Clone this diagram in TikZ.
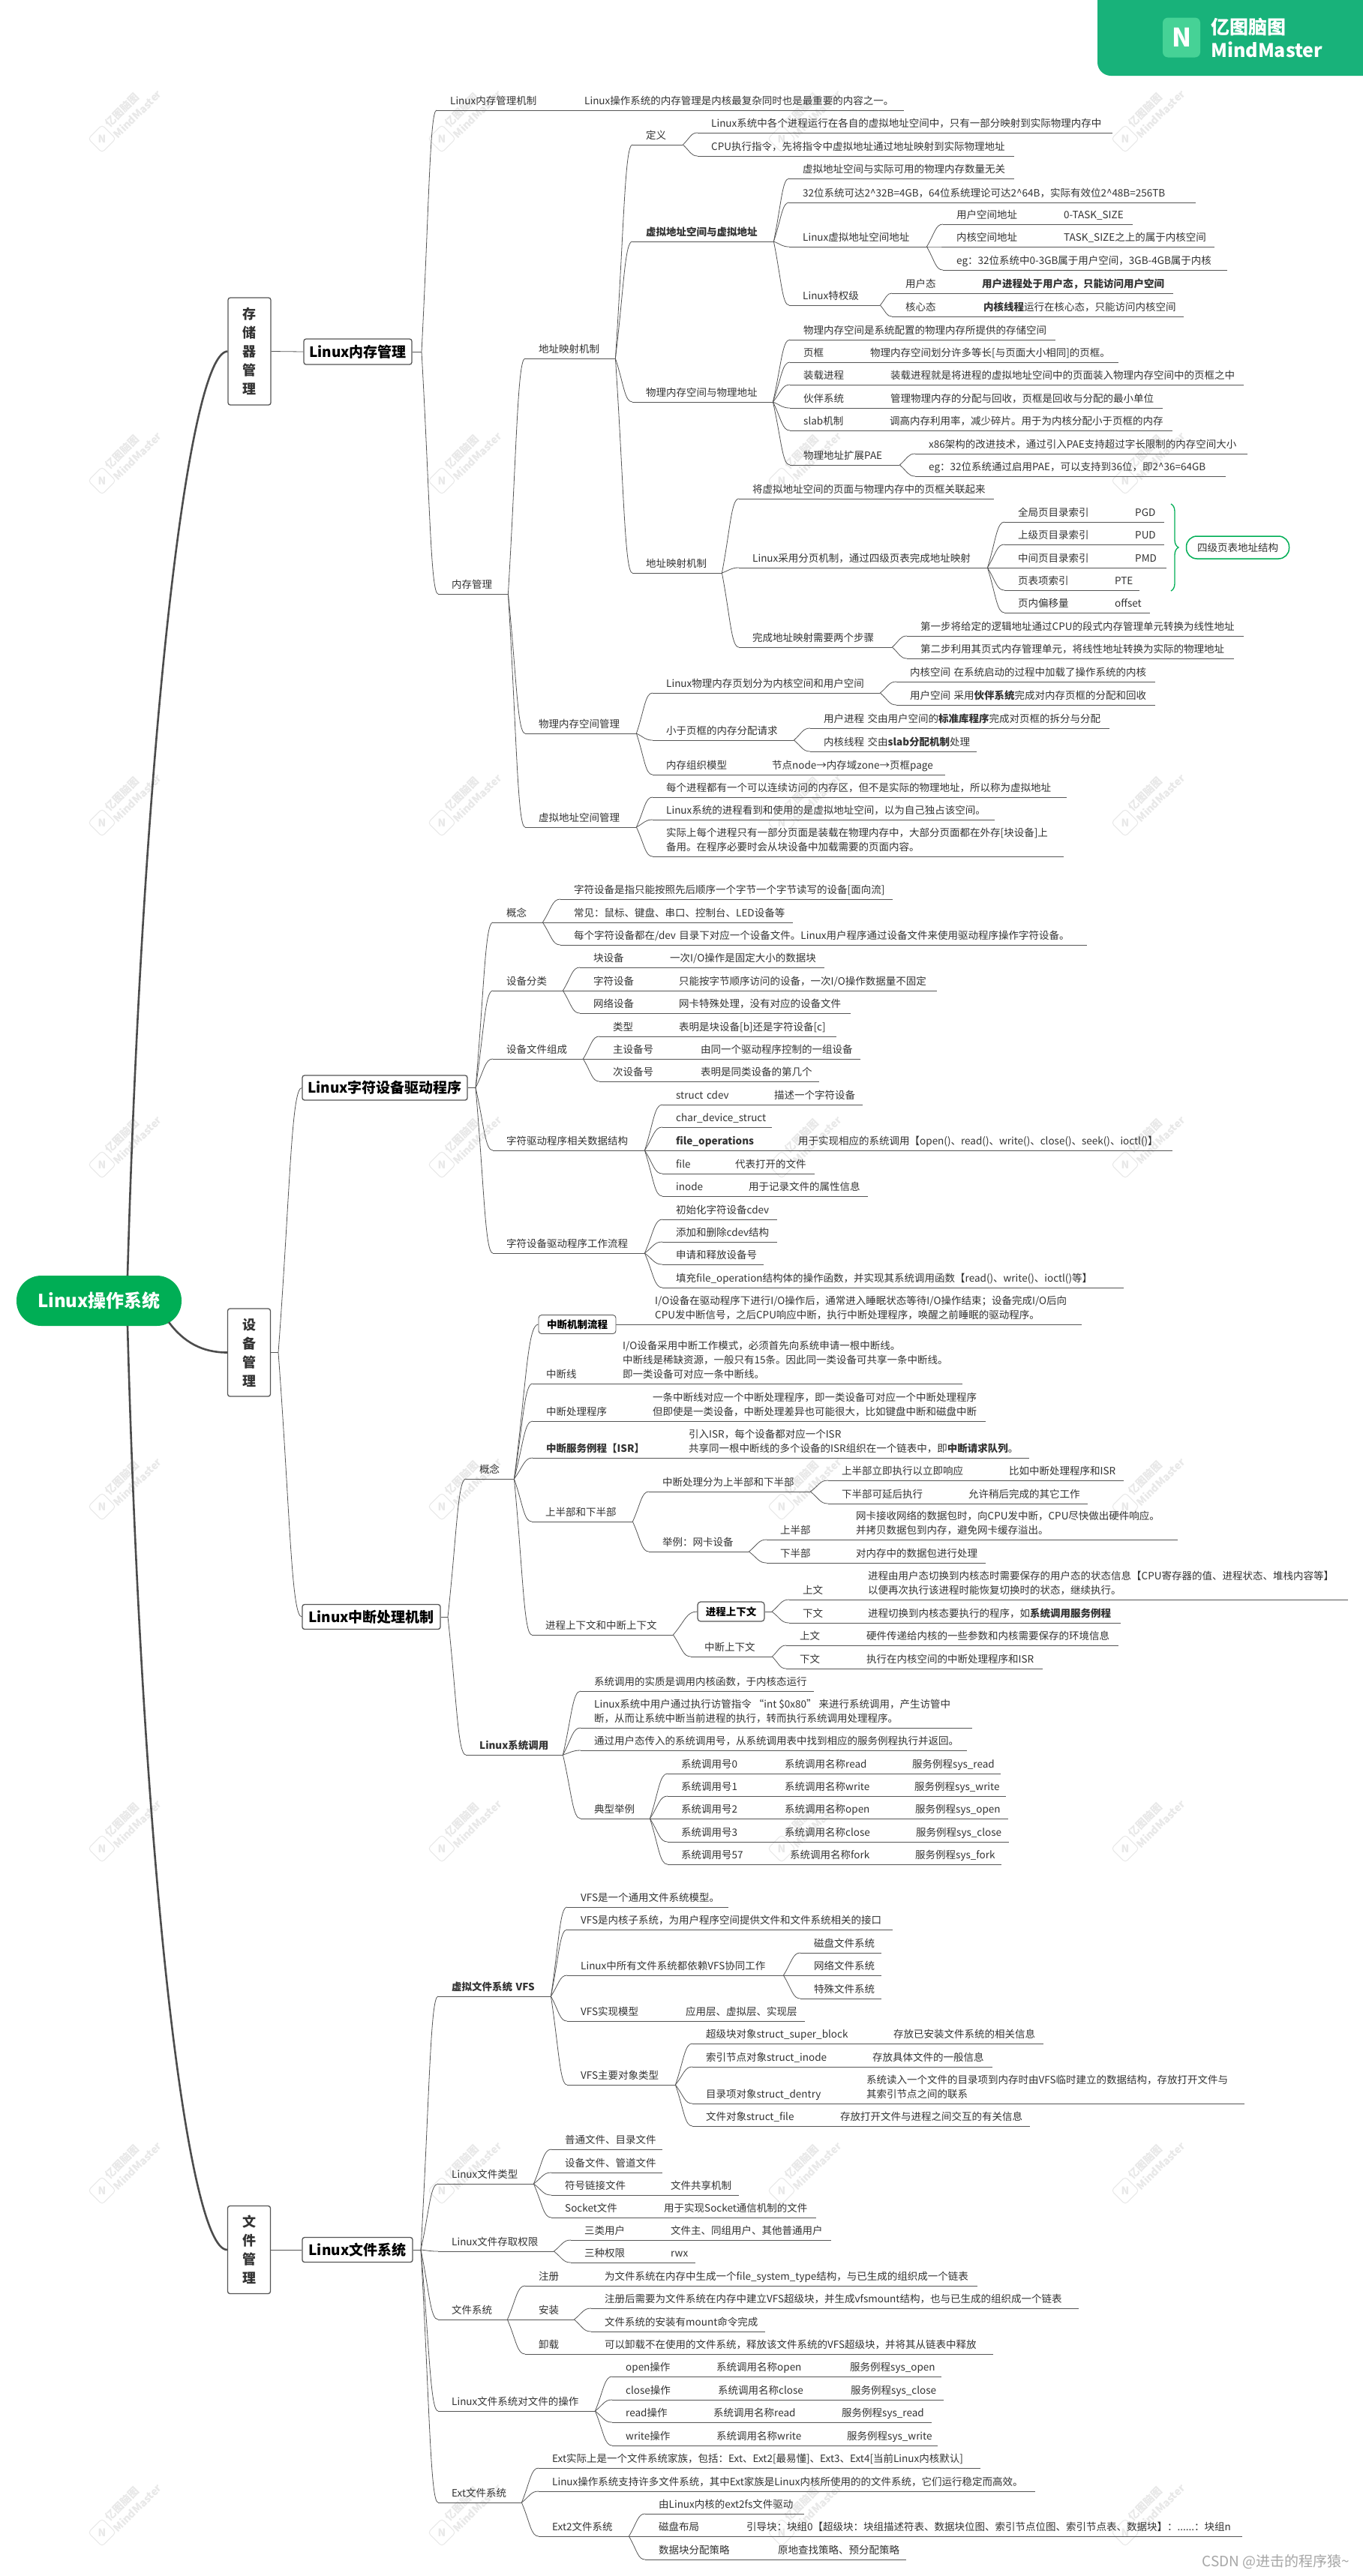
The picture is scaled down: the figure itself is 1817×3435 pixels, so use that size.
\documentclass[tikz,border=0pt]{standalone}
\usepackage{fontspec}
\setmainfont{Noto Sans CJK SC}
\usetikzlibrary{calc,decorations.pathreplacing}
\definecolor{brand}{RGB}{0,174,85}
\definecolor{logobg}{RGB}{24,178,122}
\definecolor{logoic}{RGB}{70,210,150}
\definecolor{ink}{RGB}{51,51,51}
\definecolor{wire}{RGB}{85,85,85}
\definecolor{mark}{RGB}{232,232,232}
\newcommand{\lnk}[2]{\draw[link] let \p1=(#1), \p2=(#2) in (\p1) .. controls ({.5*\x1+.5*\x2},{.4*\y1+.6*\y2}) and ({.45*\x1+.55*\x2},\y2) .. (\p2);}
\tikzset{
  topic/.style={anchor=south west,inner xsep=0pt,inner ysep=1.3pt,align=left,text=ink,font=\fontsize{13.5}{19}\selectfont},
  note/.style={anchor=south west,inner sep=0pt,yshift=1.3pt,align=left,text=ink,font=\fontsize{13.5}{19}\selectfont},
  link/.style={draw=wire,line width=.8pt},
  rule/.style={draw=wire,line width=.9pt},
  trunk/.style={draw=wire!90!black,line width=2.6pt},
  groupbox/.style={draw=wire,line width=1.3pt,fill=white,rounded corners=3pt,minimum width=57pt,align=center,text=ink,font=\fontsize{18}{25}\selectfont\bfseries},
  mainbox/.style={draw=wire,line width=1.3pt,fill=white,rounded corners=3pt,text=black,font=\fontsize{19}{24}\selectfont\bfseries},
  subbox/.style={draw=wire,line width=.9pt,fill=white,rounded corners=4pt,text=black,font=\fontsize{13.5}{19}\selectfont\bfseries},
  wmicon/.style={draw=mark,line width=1pt,rounded corners=4pt,rotate=45,minimum size=26pt,inner sep=0pt},
  wmtext/.style={text=mark,inner sep=0pt,font=\fontsize{14}{16}\selectfont\bfseries}
}
\begin{document}
\begin{tikzpicture}[x=1pt,y=-1pt]
  \useasboundingbox (0,0) rectangle (1817,3435);
  \fill[white] (0,0) rectangle (1817,3435);
  \foreach \wx in {136,589,1042,1500}
    \foreach \wy in {185,641,1097,1553,2009,2465,2921,3377} {
      \node[wmicon] (wmi\wx-\wy) at (\wx,\wy) {};
      \node[wmtext] (wmn\wx-\wy) at (\wx,\wy) {N};
      \node[wmtext,rotate=45] (wma\wx-\wy) at (\wx+27,\wy-38) {亿图脑图};
      \node[wmtext,rotate=45] (wmb\wx-\wy) at (\wx+47,\wy-33) {MindMaster};
    }
  \fill[logobg] (1463,0) [rounded corners=18pt] -- (1463,101) [sharp corners] -- (1817,101) -- (1817,0) -- cycle;
  \node[fill=logoic,rounded corners=7pt,minimum width=50pt,minimum height=53pt,inner sep=0pt,text=white,font=\fontsize{34}{34}\selectfont\bfseries] (logoicon) at (1575,50) {N};
  \node[anchor=west,inner sep=0pt,text=white,font=\fontsize{25}{27}\selectfont\bfseries] (logocn) at (1614,36) {亿图脑图};
  \node[anchor=west,inner sep=0pt,text=white,font=\fontsize{25}{27}\selectfont\bfseries] (logoen) at (1614,66) {MindMaster};

  \node[fill=brand,rounded corners=33pt,minimum width=220pt,minimum height=67pt,inner sep=0pt,text=white,font=\fontsize{24}{28}\selectfont\bfseries] (root) at (132,1734.5) {Linux操作系统};
  \node[groupbox,minimum height=143pt] (store) at (332.5,468.5) {存\\储\\器\\管\\理};
  \node[groupbox,minimum height=117pt] (device) at (332,1803.5) {设\\备\\管\\理};
  \node[groupbox,minimum height=117pt] (filegrp) at (332,3000) {文\\件\\管\\理};
  \node[mainbox,minimum width=144pt,minimum height=34pt,inner sep=0pt] (memdrv) at (477,469) {Linux内存管理};
  \node[mainbox,minimum width=220pt,minimum height=33pt,inner sep=0pt] (chrdrv) at (513,1450.5) {Linux字符设备驱动程序};
  \node[mainbox,minimum width=184pt,minimum height=33pt,inner sep=0pt] (irqdrv) at (495,2156) {Linux中断处理机制};
  \node[mainbox,minimum width=147pt,minimum height=33pt,inner sep=0pt] (fsdrv) at (476.5,3000) {Linux文件系统};

  \coordinate (rootup) at (170,1701);
  \coordinate (rootdev) at (225,1763);
  \coordinate (rootdn) at (170,1768);
  \coordinate (memhub) at (562,469);
  \coordinate (devhub) at (371,1803.5);
  \coordinate (chrhub) at (634,1450.5);
  \coordinate (irqhub) at (597,2156);
  \coordinate (fshub) at (561,3000);
  \coordinate (ctxhub) at (1029,2149);
  \draw[trunk] (rootup) .. controls (190,1000) and (250,470) .. (store.west);
  \draw[trunk] (rootdev) .. controls (245,1790) and (270,1803.5) .. (device.west);
  \draw[trunk] (rootdn) .. controls (190,2500) and (250,3000) .. (filegrp.west);
  \draw[link] (store.east) -- (memdrv.west);
  \draw[link] (filegrp.east) -- (fsdrv.west);
  \draw[link] (memdrv.east) -- (memhub);
  \draw[link] (device.east) -- (devhub);
  \draw[link] (chrdrv.east) -- (chrhub);
  \draw[link] (irqdrv.east) -- (irqhub);
  \draw[link] (fsdrv.east) -- (fshub);
  \lnk{devhub}{chrdrv.west}
  \lnk{devhub}{irqdrv.west}

  \foreach \id/\xt/\xb/\yy/\txt in {
    memintro/600/1205/147/{Linux内存管理机制},
    memmain/602/677/792/{内存管理},
    mapmech/718/820/478/{地址映射机制},
    physmgr/718/848/978/{物理内存空间管理},
    virtmgr/718/848/1103/{虚拟地址空间管理},
    defn/861/910/193/{定义},
    virtaddr/861/1031/322/{\textbf{虚拟地址空间与虚拟地址}},
    physaddr/861/1030/536/{物理内存空间与物理地址},
    addrmap/861/962/764/{地址映射机制},
    defa/948/1483/177/{Linux系统中各个进程运行在各自的虚拟地址空间中，只有一部分映射到实际物理内存中},
    defb/948/1352/208/{CPU执行指令，先将指令中虚拟地址通过地址映射到实际物理地址},
    vasa/1070/1352/238/{虚拟地址空间与实际可用的物理内存数量无关},
    vasb/1070/1594/270/{32位系统可达2\textasciicircum 32B=4GB，64位系统理论可达2\textasciicircum 64B，实际有效位2\textasciicircum 48B=256TB},
    vasc/1070/1235/329/{Linux虚拟地址空间地址},
    vasd/1070/1173/407/{Linux特权级},
    usp/1275/1510/299/{用户空间地址},
    ksp/1275/1619/329/{内核空间地址},
    egsp/1275/1636/360/{eg：32位系统中0-3GB属于用户空间，3GB-4GB属于内核},
    umode/1207/1564/391/{用户态},
    kmode/1207/1578/422/{核心态},
    pha/1071/1407/453/{物理内存空间是系统配置的物理内存所提供的存储空间},
    phb/1071/1491/483/{页框},
    phc/1071/1658/513/{装载进程},
    phd/1071/1550/544/{伙伴系统},
    phe/1071/1563/574/{slab机制},
    phf/1071/1199/620/{物理地址扩展PAE},
    paea/1238/1663/605/{x86架构的改进技术，通过引入PAE支持超过字长限制的内存空间大小},
    paeb/1238/1634/635/{eg：32位系统通过启用PAE，可以支持到36位，即2\textasciicircum 36=64GB},
    mapa/1003/1325/665/{将虚拟地址空间的页面与物理内存中的页框关联起来},
    mapb/1003/1316/757/{Linux采用分页机制，通过四级页表完成地址映射},
    mapc/1003/1189/863/{完成地址映射需要两个步骤},
    pgd/1357/1552/696/{全局页目录索引},
    pud/1357/1552/726/{上级页目录索引},
    pmd/1357/1555/757/{中间页目录索引},
    pte/1357/1519/787/{页表项索引},
    pgo/1357/1533/817/{页内偏移量},
    stepa/1227/1658/848/{第一步将给定的逻辑地址通过CPU的段式内存管理单元转换为线性地址},
    stepb/1227/1645/878/{第二步利用其页式内存管理单元，将线性地址转换为实际的物理地址},
    pma/888/1173/924/{Linux物理内存页划分为内核空间和用户空间},
    pmb/888/1058/987/{小于页框的内存分配请求},
    pmc/888/1260/1033/{内存组织模型},
    pmaa/1213/1540/909/{内核空间 在系统启动的过程中加载了操作系统的内核},
    pmab/1213/1540/940/{用户空间 采用\textbf{伙伴系统}完成对内存页框的分配和回收},
    pmba/1098/1479/971/{用户进程 交由用户空间的\textbf{标准库程序}完成对页框的拆分与分配},
    pmbb/1098/1302/1002/{内核线程 交由\textbf{slab分配机制}处理},
    vma/888/1422/1063/{每个进程都有一个可以连续访问的内存区，但不是实际的物理地址，所以称为虚拟地址},
    vmb/888/1326/1093/{Linux系统的进程看到和使用的是虚拟地址空间，以为自己独占该空间。},
    vmc/888/1418/1142/{},
    cdcon/675/723/1230/{概念},
    cdcls/675/750/1321/{设备分类},
    cdfile/675/777/1412/{设备文件组成},
    cdstru/675/859/1534/{字符驱动程序相关数据结构},
    cdflow/675/859/1671/{字符设备驱动程序工作流程},
    cona/765/1190/1199/{字符设备是指只能按照先后顺序一个字节一个字节读写的设备[面向流]},
    conb/765/1057/1230/{常见：鼠标、键盘、串口、控制台、LED设备等},
    conc/765/1449/1260/{每个字符设备都在/dev 目录下对应一个设备文件。Linux用户程序通过设备文件来使用驱动程序操作字符设备。},
    clsa/791/1099/1290/{块设备},
    clsb/791/1249/1321/{字符设备},
    clsc/791/1134/1351/{网络设备},
    fila/817/1115/1382/{类型},
    filb/817/1147/1412/{主设备号},
    filc/817/1092/1442/{次设备号},
    stra/901/1150/1473/{struct cdev},
    strb/901/1029/1503/{char\_device\_struct},
    strc/901/1563/1534/{\textbf{file\_operations}},
    strd/901/1086/1565/{file},
    stre/901/1157/1595/{inode},
    flwa/901/1036/1626/{初始化字符设备cdev},
    flwb/901/1036/1656/{添加和删除cdev结构},
    flwc/901/1018/1686/{申请和释放设备号},
    flwd/901/1498/1717/{填充file\_operation结构体的操作函数，并实现其系统调用函数【read()、write()、ioctl()等】},
    irqcon/639/685/1972/{概念},
    sysc/639/750/2340/{\textbf{Linux系统调用}},
    flowln/839/1442/1766/{},
    irqline/728/1283/1845/{中断线},
    irqproc/728/1314/1895/{中断处理程序},
    irqisr/728/1372/1944/{\textbf{中断服务例程【ISR】}},
    irqhalf/727/843/2029/{上半部和下半部},
    ctxmain/727/897/2180/{进程上下文和中断上下文},
    halfa/883/1080/1989/{中断处理分为上半部和下半部},
    halfb/883/998/2069/{举例：网卡设备},
    hfaa/1122/1498/1974/{上半部立即执行以立即响应},
    hfab/1122/1450/2005/{下半部可延后执行},
    hfba/1040/1570/2053/{上半部},
    hfbb/1040/1314/2084/{下半部},
    prua/1070/1797/2133/{上文},
    prub/1070/1494/2164/{下文},
    ictx/939/1029/2209/{中断上下文},
    icta/1066/1491/2194/{上文},
    ictb/1066/1390/2225/{下文},
    sysa/792/1085/2255/{系统调用的实质是调用内核函数，于内核态运行},
    sysb/792/1296/2304/{},
    sysd/792/1289/2334/{通过用户态传入的系统调用号，从系统调用表中找到相应的服务例程执行并返回。},
    syse/792/866/2425/{典型举例},
    nra/908/1334/2365/{系统调用号0},
    nrb/908/1341/2395/{系统调用号1},
    nrc/908/1344/2425/{系统调用号2},
    nrd/908/1345/2456/{系统调用号3},
    nre/908/1335/2486/{系统调用号57},
    vfs/602/734/2662/{\textbf{虚拟文件系统 VFS}},
    ftype/602/711/2912/{Linux文件类型},
    fperm/602/738/3002/{Linux文件存取权限},
    fsys/602/676/3093/{文件系统},
    fops/602/793/3215/{Linux文件系统对文件的操作},
    fext/602/695/3337/{Ext文件系统},
    vfsa/774/971/2543/{VFS是一个通用文件系统模型。},
    vfsb/774/1190/2573/{VFS是内核子系统，为用户程序空间提供文件和文件系统相关的接口},
    vfsc/774/1044/2634/{Linux中所有文件系统都依赖VFS协同工作},
    vfsd/774/1073/2695/{VFS实现模型},
    vfse/774/900/2780/{VFS主要对象类型},
    diskfs/1085/1175/2604/{磁盘文件系统},
    netfs/1085/1175/2634/{网络文件系统},
    specfs/1085/1175/2665/{特殊文件系统},
    obja/941/1391/2725/{超级块对象struct\_super\_block},
    objb/941/1323/2756/{索引节点对象struct\_inode},
    objc/941/1659/2805/{目录项对象struct\_dentry},
    objd/941/1373/2835/{文件对象struct\_file},
    typa/753/883/2866/{普通文件、目录文件},
    typb/753/883/2897/{设备文件、管道文件},
    typc/753/985/2927/{符号链接文件},
    typd/753/1088/2957/{Socket文件},
    pera/779/1108/2987/{三类用户},
    perb/779/927/3017/{三种权限},
    regs/718/1303/3048/{注册},
    inst/718/765/3093/{安装},
    umnt/718/1324/3139/{卸载},
    insa/806/1438/3078/{注册后需要为文件系统在内存中建立VFS超级块，并生成vfsmount结构，也与已生成的组织成一个链表},
    insb/806/1020/3109/{文件系统的安装有mount命令完成},
    opa/834/1255/3169/{open操作},
    opb/834/1258/3200/{close操作},
    opc/834/1242/3230/{read操作},
    opd/834/1250/3261/{write操作},
    exta/736/1307/3291/{Ext实际上是一个文件系统家族，包括：Ext、Ext2[最易懂]、Ext3、Ext4[当前Linux内核默认]},
    extb/736/1380/3322/{Linux操作系统支持许多文件系统，其中Ext家族是Linux内核所使用的的文件系统，它们运行稳定而高效。},
    extc/736/838/3382/{Ext2文件系统},
    extca/878/1072/3352/{由Linux内核的ext2fs文件驱动},
    extcb/878/1656/3382/{磁盘布局},
    extcc/878/1208/3413/{数据块分配策略}} {
    \node[topic,text width=\xb-\xt+18] (\id) at (\xt-18,\yy) {\rlap{\hspace{18pt}\strut\txt}};
    \draw[rule] (\id.south west) -- (\id.south east);
  }

  \foreach \id/\xn/\txt in {
    memintro/779/{Linux操作系统的内存管理是内核最复杂同时也是最重要的内容之一。},
    usp/1418/{0-TASK\_SIZE},
    ksp/1418/{TASK\_SIZE之上的属于内核空间},
    umode/1309/{\textbf{用户进程处于用户态，只能访问用户空间}},
    kmode/1311/{\textbf{内核线程}运行在核心态，只能访问内核空间},
    phb/1160/{物理内存空间划分许多等长[与页面大小相同]的页框。},
    phc/1187/{装载进程就是将进程的虚拟地址空间中的页面装入物理内存空间中的页框之中},
    phd/1187/{管理物理内存的分配与回收，页框是回收与分配的最小单位},
    phe/1186/{调高内存利用率，减少碎片。用于为内核分配小于页框的内存},
    pgd/1513/{PGD},
    pud/1513/{PUD},
    pmd/1513/{PMD},
    pte/1486/{PTE},
    pgo/1486/{offset},
    pmc/1029/{节点node→内存域zone→页框page},
    vmc/888/{实际上每个进程只有一部分页面是装载在物理内存中，大部分页面都在外存[块设备]上\\\strut 备用。在程序必要时会从块设备中加载需要的页面内容。},
    clsa/893/{一次I/O操作是固定大小的数据块},
    clsb/905/{只能按字节顺序访问的设备，一次I/O操作数据量不固定},
    clsc/905/{网卡特殊处理，没有对应的设备文件},
    fila/905/{表明是块设备[b]还是字符设备[c]},
    filb/934/{由同一个驱动程序控制的一组设备},
    filc/934/{表明是同类设备的第几个},
    stra/1032/{描述一个字符设备},
    strc/1064/{用于实现相应的系统调用【open()、read()、write()、close()、seek()、ioctl()】},
    strd/980/{代表打开的文件},
    stre/998/{用于记录文件的属性信息},
    flowln/873/{I/O设备在驱动程序下进行I/O操作后，通常进入睡眠状态等待I/O操作结束；设备完成I/O后向\\\strut CPU发中断信号，之后CPU响应中断，执行中断处理程序，唤醒之前睡眠的驱动程序。},
    irqline/830/{I/O设备采用中断工作模式，必须首先向系统申请一根中断线。\\\strut 中断线是稀缺资源，一般只有15条。因此同一类设备可共享一条中断线。\\\strut 即一类设备可对应一条中断线。},
    irqproc/870/{一条中断线对应一个中断处理程序，即一类设备可对应一个中断处理程序\\\strut 但即使是一类设备，中断处理差异也可能很大，比如键盘中断和磁盘中断},
    irqisr/918/{引入ISR，每个设备都对应一个ISR\\\strut 共享同一根中断线的多个设备的ISR组织在一个链表中，即\textbf{中断请求队列}。},
    hfaa/1345/{比如中断处理程序和ISR},
    hfab/1291/{允许稍后完成的其它工作},
    hfba/1141/{网卡接收网络的数据包时，向CPU发中断，CPU尽快做出硬件响应。\\\strut 并拷贝数据包到内存，避免网卡缓存溢出。},
    hfbb/1141/{对内存中的数据包进行处理},
    prua/1157/{进程由用户态切换到内核态时需要保存的用户态的状态信息【CPU寄存器的值、进程状态、堆栈内容等】\\\strut 以便再次执行该进程时能恢复切换时的状态，继续执行。},
    prub/1157/{进程切换到内核态要执行的程序，如\textbf{系统调用服务例程}},
    icta/1155/{硬件传递给内核的一些参数和内核需要保存的环境信息},
    ictb/1155/{执行在内核空间的中断处理程序和ISR},
    sysb/792/{Linux系统中用户通过执行访管指令 “int \$0x80” 来进行系统调用，产生访管中\\\strut 断，从而让系统中断当前进程的执行，转而执行系统调用处理程序。},
    nra/1046/{系统调用名称read},
    nra/1216/{服务例程sys\_read},
    nrb/1046/{系统调用名称write},
    nrb/1219/{服务例程sys\_write},
    nrc/1046/{系统调用名称open},
    nrc/1220/{服务例程sys\_open},
    nrd/1046/{系统调用名称close},
    nrd/1221/{服务例程sys\_close},
    nre/1053/{系统调用名称fork},
    nre/1220/{服务例程sys\_fork},
    vfsd/914/{应用层、虚拟层、实现层},
    obja/1191/{存放已安装文件系统的相关信息},
    objb/1163/{存放具体文件的一般信息},
    objc/1155/{系统读入一个文件的目录项到内存时由VFS临时建立的数据结构，存放打开文件与\\\strut 其索引节点之间的联系},
    objd/1120/{存放打开文件与进程之间交互的有关信息},
    typc/894/{文件共享机制},
    typd/885/{用于实现Socket通信机制的文件},
    pera/894/{文件主、同组用户、其他普通用户},
    perb/894/{rwx},
    regs/806/{为文件系统在内存中生成一个file\_system\_type结构，与已生成的组织成一个链表},
    umnt/806/{可以卸载不在使用的文件系统，释放该文件系统的VFS超级块，并将其从链表中释放},
    opa/955/{系统调用名称open},
    opa/1133/{服务例程sys\_open},
    opb/957/{系统调用名称close},
    opb/1134/{服务例程sys\_close},
    opc/951/{系统调用名称read},
    opc/1122/{服务例程sys\_read},
    opd/955/{系统调用名称write},
    opd/1129/{服务例程sys\_write},
    extcb/995/{引导块：块组0【超级块：块组描述符表、数据块位图、索引节点位图、索引节点表、数据块】：......：块组n},
    extcc/1037/{原地查找策略、预分配策略}} {
    \node[note] (\id-\xn) at (\xn,0 |- \id.south) {\strut\txt};
  }

  \node[subbox,minimum width=103pt,minimum height=25pt,inner sep=0pt] (irqflow) at (769.5,1766) {中断机制流程};
  \node[subbox,line width=1.2pt,minimum width=89pt,minimum height=26pt,inner sep=0pt] (procctx) at (974.5,2149) {进程上下文};
  \draw[link] (procctx.east) -- (ctxhub);
  \lnk{irqcon.south east}{irqflow.west}
  \lnk{ctxmain.south east}{procctx.west}
  \lnk{ctxhub}{prua.south west}
  \lnk{ctxhub}{prub.south west}

  \foreach \kid in {memintro,memmain} {\lnk{memhub}{\kid.south west}}
  \foreach \kid in {cdcon,cdcls,cdfile,cdstru,cdflow} {\lnk{chrhub}{\kid.south west}}
  \foreach \kid in {irqcon,sysc} {\lnk{irqhub}{\kid.south west}}
  \foreach \kid in {vfs,ftype,fperm,fsys,fops,fext} {\lnk{fshub}{\kid.south west}}
  \foreach \from/\kids in {
    memmain/{mapmech,physmgr,virtmgr},
    mapmech/{defn,virtaddr,physaddr,addrmap},
    defn/{defa,defb},
    virtaddr/{vasa,vasb,vasc,vasd},
    vasc/{usp,ksp,egsp},
    vasd/{umode,kmode},
    physaddr/{pha,phb,phc,phd,phe,phf},
    phf/{paea,paeb},
    addrmap/{mapa,mapb,mapc},
    mapb/{pgd,pud,pmd,pte,pgo},
    mapc/{stepa,stepb},
    physmgr/{pma,pmb,pmc},
    pma/{pmaa,pmab},
    pmb/{pmba,pmbb},
    virtmgr/{vma,vmb,vmc},
    cdcon/{cona,conb,conc},
    cdcls/{clsa,clsb,clsc},
    cdfile/{fila,filb,filc},
    cdstru/{stra,strb,strc,strd,stre},
    cdflow/{flwa,flwb,flwc,flwd},
    irqcon/{irqline,irqproc,irqisr,irqhalf,ctxmain},
    irqhalf/{halfa,halfb},
    halfa/{hfaa,hfab},
    halfb/{hfba,hfbb},
    ctxmain/{ictx},
    ictx/{icta,ictb},
    sysc/{sysa,sysb,sysd,syse},
    syse/{nra,nrb,nrc,nrd,nre},
    vfs/{vfsa,vfsb,vfsc,vfsd,vfse},
    vfsc/{diskfs,netfs,specfs},
    vfse/{obja,objb,objc,objd},
    ftype/{typa,typb,typc,typd},
    fperm/{pera,perb},
    fsys/{regs,inst,umnt},
    inst/{insa,insb},
    fops/{opa,opb,opc,opd},
    fext/{exta,extb,extc},
    extc/{extca,extcb,extcc}} {
    \foreach \kid in \kids {\lnk{\from.south east}{\kid.south west}}
  }

  \coordinate (bracetop) at (1561,672);
  \coordinate (bracebot) at (1561,788);
  \node[draw=brand,line width=1.5pt,rounded corners=14pt,minimum width=137pt,minimum height=30pt,inner sep=0pt,text=ink,font=\fontsize{13.5}{19}\selectfont] (lvlfour) at (1650,730) {四级页表地址结构};
  \draw[draw=brand,line width=1.3pt,decorate,decoration={brace,amplitude=10pt}] (bracetop) -- (bracebot);

  \node[inner sep=0pt,text=gray!70,font=\fontsize{19}{22}\selectfont] (credit) at (1701,3416) {CSDN @进击的程序猿\textasciitilde};
\end{tikzpicture}
\end{document}
